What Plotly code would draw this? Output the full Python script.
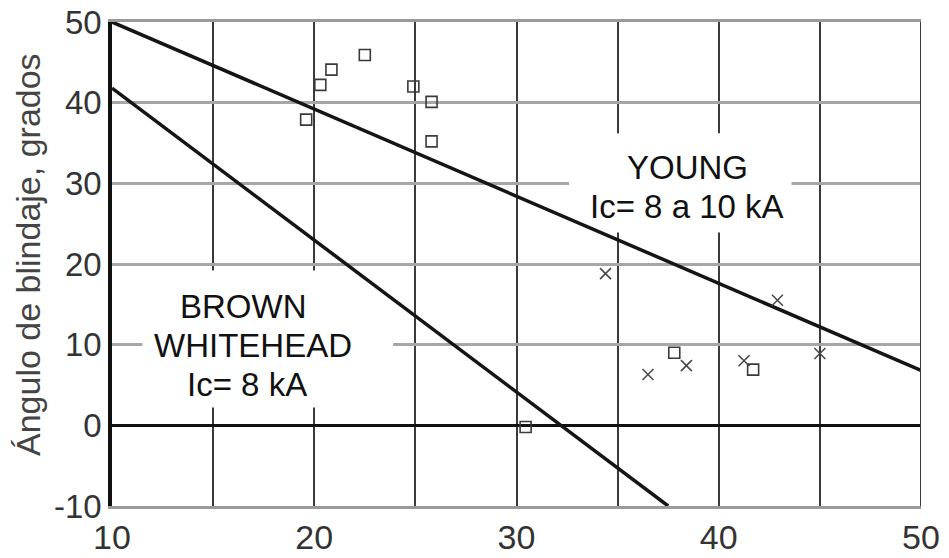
import plotly.graph_objects as go

# ---- data ----
x_ticks = [10, 15, 20, 25, 30, 35, 40, 45, 50]
x_tick_labels = ["10", "", "20", "", "30", "", "40", "", "50"]
y_ticks = [-10, 0, 10, 20, 30, 40, 50]
y_tick_labels = ["-10", "0", "10", "20", "30", "40", "50"]

young_x = [10, 50]
young_y = [50, 6.8]
brown_x = [10, 37.5]
brown_y = [41.8, -10]

square_x = [19.6, 20.3, 20.85, 22.5, 24.9, 25.8, 25.8, 30.45, 37.8, 41.7]
square_y = [37.9, 42.2, 44.1, 45.9, 42.0, 40.1, 35.2, -0.2, 9.0, 6.9]
cross_x = [34.4, 36.5, 38.4, 41.25, 42.9, 45.0]
cross_y = [18.8, 6.3, 7.4, 8.0, 15.5, 8.9]

y_title = "Ángulo de blindaje, grados"
young_lines = ["YOUNG", "Ic= 8 a 10 kA"]
young_pos = [(38.45, 31.97), (38.45, 27.1)]
brown_lines = ["BROWN", "WHITEHEAD", "Ic= 8 kA"]
brown_pos = [(16.49, 14.7), (16.98, 9.88), (16.67, 5.12)]

FONT = "Arial, Liberation Sans, sans-serif"

fig = go.Figure()

fig.add_trace(go.Scatter(x=young_x, y=young_y, mode="lines",
                         line=dict(color="#151515", width=3.5), hoverinfo="skip"))
fig.add_trace(go.Scatter(x=brown_x, y=brown_y, mode="lines",
                         line=dict(color="#151515", width=3.5), hoverinfo="skip"))
fig.add_trace(go.Scatter(x=square_x, y=square_y, mode="markers",
                         marker=dict(symbol="square-open", size=11,
                                     color="#3a3a3a", line=dict(width=1.6, color="#3a3a3a"))))
fig.add_trace(go.Scatter(x=cross_x, y=cross_y, mode="markers",
                         marker=dict(symbol="x-thin-open", size=11,
                                     color="#4a4a4a", line=dict(width=1.6, color="#4a4a4a"))))

# white boxes behind the labels (hide grid, not traces)
fig.add_shape(type="rect", x0=32.6, x1=43.6, y0=23.9, y1=36.2, xref="x", yref="y",
              fillcolor="white", line=dict(width=0), layer="between")
fig.add_shape(type="rect", x0=11.5, x1=23.9, y0=2.2, y1=19.2, xref="x", yref="y",
              fillcolor="white", line=dict(width=0), layer="between")
# right border
fig.add_shape(type="line", x0=50, x1=50, y0=0, y1=1, xref="x", yref="paper",
              line=dict(color="#3a3a3a", width=2), layer="above")

for txt, (xx, yy) in zip(young_lines + brown_lines, young_pos + brown_pos):
    fig.add_annotation(x=xx, y=yy, xref="x", yref="y", text=txt, showarrow=False,
                       xanchor="center", yanchor="middle",
                       font=dict(family=FONT, size=33, color="#111111"))

fig.add_annotation(x=-0.1038, y=0.5186, xref="paper", yref="paper", text=y_title,
                   textangle=-90, showarrow=False, xanchor="center", yanchor="middle",
                   font=dict(family=FONT, size=34, color="#444444"))

fig.update_layout(
    width=949, height=558,
    margin=dict(l=112, r=28, t=22, b=52, autoexpand=False),
    paper_bgcolor="white", plot_bgcolor="white",
    showlegend=False,
    font=dict(family=FONT),
    xaxis=dict(range=[10, 50], tickvals=x_ticks, ticktext=x_tick_labels,
               automargin=False, ticklabeloverflow="allow",
               showgrid=True, gridcolor="#3a3a3a", gridwidth=2,
               zeroline=False, showline=True, linecolor="#9a9a9a", linewidth=3,
               mirror=True, ticks="", ticklabelstandoff=-1,
               tickfont=dict(family=FONT, size=34, color="#333333")),
    yaxis=dict(range=[-10, 50], tickvals=y_ticks, ticktext=y_tick_labels,
               automargin=False, ticklabeloverflow="allow",
               showgrid=True, gridcolor="#a6a6a6", gridwidth=3,
               zeroline=True, zerolinecolor="#111111", zerolinewidth=3,
               showline=True, linecolor="#111111", linewidth=3.5, mirror=False,
               ticks="", ticklabelstandoff=0,
               tickfont=dict(family=FONT, size=33, color="#333333")),
)

fig.write_html("out.html", config={"displayModeBar": False},
               post_script="document.body.style.margin='0';document.body.style.overflow='hidden';")
